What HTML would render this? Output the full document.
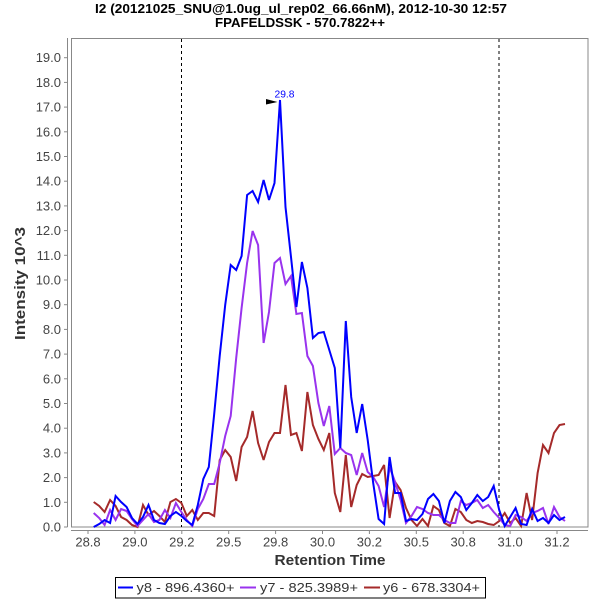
<!DOCTYPE html>
<html><head><meta charset="utf-8"><style>
html,body{margin:0;padding:0;background:#fff;}
svg{display:block;font-family:"Liberation Sans",sans-serif;}
</style></head><body>
<svg width="600" height="600" viewBox="0 0 600 600" xmlns="http://www.w3.org/2000/svg">
<rect x="0" y="0" width="600" height="600" fill="#fff"/>
<text x="301" y="13" font-size="13" font-weight="bold" text-anchor="middle" textLength="412" lengthAdjust="spacingAndGlyphs">I2 (20121025_SNU@1.0ug_ul_rep02_66.66nM), 2012-10-30 12:57</text>
<text x="300" y="27" font-size="13" font-weight="bold" text-anchor="middle" textLength="170" lengthAdjust="spacingAndGlyphs">FPAFELDSSK - 570.7822++</text>
<rect x="71.5" y="38.5" width="516.5" height="488.5" fill="none" stroke="#888" stroke-width="1"/>
<line x1="67.5" y1="38" x2="67.5" y2="527" stroke="#888" stroke-width="1"/>
<line x1="71" y1="530.5" x2="588" y2="530.5" stroke="#888" stroke-width="1"/>
<g stroke="#888" stroke-width="1">
<line x1="64" x2="67.5" y1="527" y2="527"/><line x1="64" x2="67.5" y1="502.3" y2="502.3"/><line x1="64" x2="67.5" y1="477.6" y2="477.6"/><line x1="64" x2="67.5" y1="452.9" y2="452.9"/><line x1="64" x2="67.5" y1="428.2" y2="428.2"/><line x1="64" x2="67.5" y1="403.5" y2="403.5"/><line x1="64" x2="67.5" y1="378.8" y2="378.8"/><line x1="64" x2="67.5" y1="354.1" y2="354.1"/><line x1="64" x2="67.5" y1="329.4" y2="329.4"/><line x1="64" x2="67.5" y1="304.7" y2="304.7"/><line x1="64" x2="67.5" y1="280" y2="280"/><line x1="64" x2="67.5" y1="255.3" y2="255.3"/><line x1="64" x2="67.5" y1="230.6" y2="230.6"/><line x1="64" x2="67.5" y1="205.9" y2="205.9"/><line x1="64" x2="67.5" y1="181.2" y2="181.2"/><line x1="64" x2="67.5" y1="156.5" y2="156.5"/><line x1="64" x2="67.5" y1="131.8" y2="131.8"/><line x1="64" x2="67.5" y1="107.1" y2="107.1"/><line x1="64" x2="67.5" y1="82.4" y2="82.4"/><line x1="64" x2="67.5" y1="57.7" y2="57.7"/>
<line y1="530.5" y2="534" x1="88" x2="88"/><line y1="530.5" y2="534" x1="134.9" x2="134.9"/><line y1="530.5" y2="534" x1="181.8" x2="181.8"/><line y1="530.5" y2="534" x1="228.7" x2="228.7"/><line y1="530.5" y2="534" x1="275.6" x2="275.6"/><line y1="530.5" y2="534" x1="322.5" x2="322.5"/><line y1="530.5" y2="534" x1="369.4" x2="369.4"/><line y1="530.5" y2="534" x1="416.3" x2="416.3"/><line y1="530.5" y2="534" x1="463.2" x2="463.2"/><line y1="530.5" y2="534" x1="510.1" x2="510.1"/><line y1="530.5" y2="534" x1="557" x2="557"/>
</g>
<g font-size="13" fill="#444" text-anchor="end">
<text x="61" y="531.5">0.0</text><text x="61" y="506.8">1.0</text><text x="61" y="482.1">2.0</text><text x="61" y="457.4">3.0</text><text x="61" y="432.7">4.0</text><text x="61" y="408">5.0</text><text x="61" y="383.3">6.0</text><text x="61" y="358.6">7.0</text><text x="61" y="333.9">8.0</text><text x="61" y="309.2">9.0</text><text x="61" y="284.5">10.0</text><text x="61" y="259.8">11.0</text><text x="61" y="235.1">12.0</text><text x="61" y="210.4">13.0</text><text x="61" y="185.7">14.0</text><text x="61" y="161">15.0</text><text x="61" y="136.3">16.0</text><text x="61" y="111.6">17.0</text><text x="61" y="86.9">18.0</text><text x="61" y="62.2">19.0</text>
</g>
<g font-size="13" fill="#444" text-anchor="middle">
<text x="88" y="546.5">28.8</text><text x="134.9" y="546.5">29.0</text><text x="181.8" y="546.5">29.2</text><text x="228.7" y="546.5">29.5</text><text x="275.6" y="546.5">29.8</text><text x="322.5" y="546.5">30.0</text><text x="369.4" y="546.5">30.2</text><text x="416.3" y="546.5">30.5</text><text x="463.2" y="546.5">30.8</text><text x="510.1" y="546.5">31.0</text><text x="557" y="546.5">31.2</text>
</g>
<text x="330" y="565" font-size="14.5" font-weight="bold" fill="#333" text-anchor="middle" textLength="111" lengthAdjust="spacingAndGlyphs">Retention Time</text>
<text transform="translate(25,283.5) rotate(-90)" x="0" y="0" font-size="14.5" font-weight="bold" fill="#333" text-anchor="middle" textLength="113" lengthAdjust="spacingAndGlyphs">Intensity 10^3</text>
<line x1="181.5" y1="39" x2="181.5" y2="527" stroke="#000" stroke-width="1" stroke-dasharray="3,3"/>
<line x1="499" y1="39" x2="499" y2="527" stroke="#000" stroke-width="1" stroke-dasharray="3,3"/>
<g fill="none" stroke-width="2" stroke-linejoin="miter" stroke-miterlimit="3">
<polyline stroke="#a52a2a" points="93.7,502 99.2,506 104.6,512 110.1,500 115.6,506 121.1,517 126.6,520 132.0,525 137.5,527 143.0,505 148.5,515 154.0,511 159.4,516 164.9,522 170.4,502 175.9,499 181.4,503 186.8,516 192.3,510 197.8,520 203.3,513 208.8,513 214.2,516 219.7,460 225.2,450 230.7,457 236.2,481 241.6,447 247.1,437 252.6,411 258.1,443 263.6,460 269.0,442 274.5,433 280,433 285.5,385 291.0,435 296.4,433 301.9,451 307.4,392 312.9,425 318.4,439 323.8,450 329.3,433 334.8,493 340.3,512 345.8,455 351.2,507 356.7,485 362.2,474 367.7,477 373.2,476 378.6,475 384.1,465 389.6,518 395.1,482 400.6,490 406.0,508 411.5,520 417.0,526 422.5,519 428.0,526 433.4,506 438.9,510 444.4,523 449.9,526 455.4,509 460.8,512 466.3,520 471.8,523 477.3,521 482.8,522 488.2,524 493.7,525 499.2,521 504.7,513 510.2,523 515.6,518 521.1,526 526.6,493 532.1,520 537.6,473 543.0,445 548.5,453 554.0,433 559.5,425 565.0,424"/>
<polyline stroke="#9933ee" points="93.7,513 99.2,518 104.6,525 110.1,510 115.6,520 121.1,509 126.6,511 132.0,519 137.5,526 143.0,520 148.5,514 154.0,522 159.4,520 164.9,510 170.4,518 175.9,503 181.4,512 186.8,520 192.3,526 197.8,509 203.3,499 208.8,484 214.2,484 219.7,463 225.2,436 230.7,416 236.2,358 241.6,308 247.1,263 252.6,231 258.1,245 263.6,343 269.0,312 274.5,263 280,258 285.5,284 291.0,276 296.4,314 301.9,313 307.4,356 312.9,366 318.4,403 323.8,426 329.3,406 334.8,454 340.3,448 345.8,453 351.2,455 356.7,475 362.2,453 367.7,472 373.2,477 378.6,486 384.1,507 389.6,467 395.1,482 400.6,500 406.0,523 411.5,516 417.0,507 422.5,509 428.0,513 433.4,515 438.9,515 444.4,520 449.9,523 455.4,523 460.8,501 466.3,505 471.8,503 477.3,500 482.8,508 488.2,505 493.7,512 499.2,518 504.7,525 510.2,526 515.6,515 521.1,517 526.6,521 532.1,513 537.6,511 543.0,508 548.5,524 554.0,507 559.5,517 565.0,521"/>
<polyline stroke="#0000ff" points="93.7,527 99.2,524 104.6,520 110.1,523 115.6,496 121.1,502 126.6,507 132.0,518 137.5,524 143.0,517 148.5,505 154.0,520 159.4,523 164.9,524 170.4,516 175.9,512 181.4,516 186.8,521 192.3,525 197.8,505 203.3,479 208.8,467 214.2,414 219.7,356 225.2,305 230.7,265 236.2,270 241.6,256 247.1,195 252.6,191 258.1,202 263.6,180 269.0,200 274.5,183 280,100 285.5,207 291.0,257 296.4,307 301.9,262 307.4,288 312.9,338 318.4,333 323.8,332 329.3,350 334.8,368 340.3,448 345.8,321 351.2,397 356.7,433 362.2,404 367.7,440 373.2,483 378.6,519 384.1,524 389.6,457 395.1,493 400.6,493 406.0,521 411.5,519 417.0,520 422.5,514 428.0,499 433.4,494 438.9,501 444.4,523 449.9,501 455.4,492 460.8,497 466.3,510 471.8,503 477.3,495 482.8,501 488.2,497 493.7,486 499.2,510 504.7,526 510.2,517 515.6,508 521.1,524 526.6,525 532.1,509 537.6,521 543.0,518 548.5,523 554.0,515 559.5,520 565.0,517"/>
</g>
<polygon points="266,99 277.5,102 266,104.5" fill="#000"/>
<text x="274.5" y="97.5" font-size="10" fill="#0000ff" textLength="20" lengthAdjust="spacingAndGlyphs">29.8</text>
<rect x="115.5" y="577.5" width="370" height="20.5" fill="#fff" stroke="#000" stroke-width="1"/>
<line x1="118" y1="587.5" x2="133" y2="587.5" stroke="#0000ff" stroke-width="2"/>
<text x="136.5" y="592" font-size="13" fill="#333" textLength="98" lengthAdjust="spacingAndGlyphs">y8 - 896.4360+</text>
<line x1="240" y1="587.5" x2="256" y2="587.5" stroke="#9933ee" stroke-width="2"/>
<text x="260" y="592" font-size="13" fill="#333" textLength="98" lengthAdjust="spacingAndGlyphs">y7 - 825.3989+</text>
<line x1="364" y1="587.5" x2="380" y2="587.5" stroke="#a52a2a" stroke-width="2"/>
<text x="383" y="592" font-size="13" fill="#333" textLength="97" lengthAdjust="spacingAndGlyphs">y6 - 678.3304+</text>
</svg>
</body></html>
